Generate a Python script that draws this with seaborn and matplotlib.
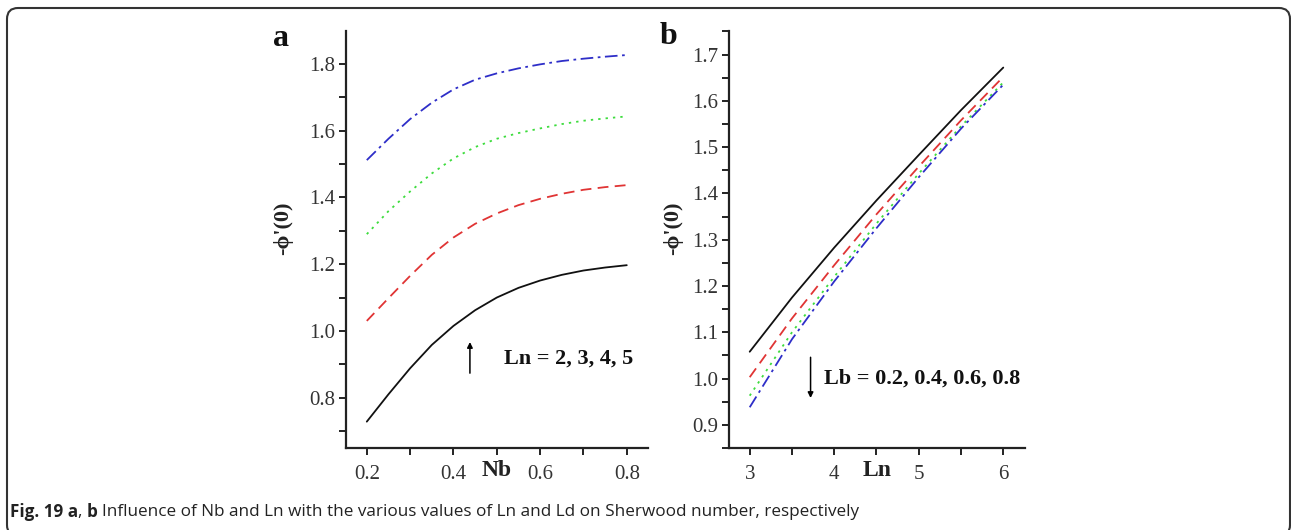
import numpy as np
import pandas as pd
import matplotlib
matplotlib.use("Agg")
import matplotlib.pyplot as plt
import seaborn as sns
from matplotlib.patches import FancyBboxPatch
from matplotlib.ticker import MultipleLocator
from matplotlib.transforms import IdentityTransform

# ---- data ----
nb = [0.20, 0.25, 0.30, 0.35, 0.40, 0.45, 0.50, 0.55, 0.60, 0.65, 0.70, 0.75, 0.80]
a_ln2 = [0.728, 0.810, 0.888, 0.958, 1.015, 1.062, 1.100, 1.129, 1.151, 1.168, 1.181, 1.190, 1.197]
a_ln3 = [1.030, 1.098, 1.165, 1.228, 1.280, 1.321, 1.352, 1.377, 1.396, 1.411, 1.423, 1.431, 1.437]
a_ln4 = [1.290, 1.359, 1.418, 1.472, 1.517, 1.551, 1.576, 1.593, 1.607, 1.620, 1.630, 1.637, 1.643]
a_ln5 = [1.512, 1.576, 1.635, 1.684, 1.724, 1.753, 1.772, 1.787, 1.799, 1.809, 1.816, 1.822, 1.827]

ln = [3.0, 3.5, 4.0, 4.5, 5.0, 5.5, 6.0]
b_lb02 = [1.058, 1.175, 1.283, 1.385, 1.483, 1.580, 1.672]
b_lb04 = [1.003, 1.130, 1.245, 1.355, 1.458, 1.558, 1.652]
b_lb06 = [0.963, 1.100, 1.220, 1.335, 1.443, 1.545, 1.640]
b_lb08 = [0.938, 1.085, 1.210, 1.325, 1.435, 1.540, 1.635]

colors = ["#111111", "#e03434", "#3ddc3d", "#2e2ec8"]
styles = ["-", (0, (6, 3.5)), (0, (1.3, 2.8)), (0, (7, 2.5, 1.5, 2.5))]

sns.set_theme(style="white")
plt.rcParams["font.family"] = ["Liberation Serif", "DejaVu Serif"]

fig = plt.figure(figsize=(12.91, 5.30), dpi=100)
W, H = 1291, 530

def px_axes(l, t, r, b):
    return fig.add_axes([l / W, 1 - b / H, (r - l) / W, (b - t) / H])

axa = px_axes(346, 31, 648, 448)
axb = px_axes(729, 31, 1025, 448)

for ys, c, ls in zip([a_ln2, a_ln3, a_ln4, a_ln5], colors, styles):
    sns.lineplot(x=nb, y=ys, ax=axa, color=c, linestyle=ls, linewidth=1.3)
for ys, c, ls in zip([b_lb02, b_lb04, b_lb06, b_lb08], colors, styles):
    sns.lineplot(x=ln, y=ys, ax=axb, color=c, linestyle=ls, linewidth=1.3)

axa.set_xlim(0.152, 0.849)
axa.set_ylim(0.649, 1.899)
axa.set_xticks([0.2, 0.4, 0.6, 0.8])
axa.set_xticklabels(["0.2", "0.4", "0.6", "0.8"])
axa.xaxis.set_minor_locator(MultipleLocator(0.1))
axa.set_yticks([0.8, 1.0, 1.2, 1.4, 1.6, 1.8])
axa.set_yticklabels(["0.8", "1.0", "1.2", "1.4", "1.6", "1.8"])
axa.yaxis.set_minor_locator(MultipleLocator(0.1))

axb.set_xlim(2.755, 6.257)
axb.set_ylim(0.85, 1.751)
axb.set_xticks([3, 4, 5, 6])
axb.set_xticklabels(["3", "4", "5", "6"])
axb.xaxis.set_minor_locator(MultipleLocator(0.5))
axb.set_yticks([0.9, 1.0, 1.1, 1.2, 1.3, 1.4, 1.5, 1.6, 1.7])
axb.set_yticklabels(["0.9", "1.0", "1.1", "1.2", "1.3", "1.4", "1.5", "1.6", "1.7"])
axb.yaxis.set_minor_locator(MultipleLocator(0.05))

for ax in (axa, axb):
    for s in ("top", "right"):
        ax.spines[s].set_visible(False)
    for s in ("left", "bottom"):
        ax.spines[s].set_color("#222222")
        ax.spines[s].set_linewidth(1.6)
    ax.set_facecolor("none")
    ax.tick_params(which="both", direction="out", length=5, width=1.4,
                   color="#222222", labelsize=15, labelcolor="#333333",
                   left=True, bottom=True, pad=3)
    ax.tick_params(axis="x", which="major", pad=7)
    ax.set_xlabel("")
    ax.set_ylabel("")
    ax.grid(False)

# axis labels
for xc in (283, 673):
    fig.text(xc / W, 1 - 228 / H, "-\u03d5'(0)", fontsize=16, fontweight="bold",
             rotation=90, ha="center", va="center", color="#222222")
fig.text(497 / W, 1 - 470 / H, "Nb", fontsize=17, fontweight="bold",
         ha="center", va="center", color="#222222")
fig.text(877 / W, 1 - 470 / H, "Ln", fontsize=17, fontweight="bold",
         ha="center", va="center", color="#222222")

# panel letters
fig.text(281 / W, 1 - 38 / H, "a", fontsize=23, fontweight="bold",
         ha="center", va="center", color="#111111")
fig.text(669 / W, 1 - 36 / H, "b", fontsize=23, fontweight="bold",
         ha="center", va="center", color="#111111")

# annotations
axa.annotate("", xy=(0.438, 0.975), xytext=(0.438, 0.865),
             arrowprops=dict(arrowstyle="-|>", color="black", lw=1.1,
                             mutation_scale=8))
axa.text(0.516, 0.918, "Ln = 2, 3, 4, 5", fontsize=16, fontweight="bold",
         ha="left", va="center", color="#111111")
axb.annotate("", xy=(3.72, 0.952), xytext=(3.72, 1.052),
             arrowprops=dict(arrowstyle="-|>", color="black", lw=1.1,
                             mutation_scale=8))
axb.text(3.88, 1.0, "Lb = 0.2, 0.4, 0.6, 0.8", fontsize=16, fontweight="bold",
         ha="left", va="center", color="#111111")

# caption
cap_font = ["Open Sans", "DejaVu Sans"]
cap_size = 12.3
cy = 1 - 512 / H
t1 = fig.text(10 / W, cy, "Fig. 19 a", fontsize=cap_size, fontweight="bold",
              family=cap_font, ha="left", va="center", color="#222222")
fig.canvas.draw()
r = fig.canvas.get_renderer()
bb = t1.get_window_extent(r)
t2 = fig.text(bb.x1 / W, cy, ", ", fontsize=cap_size, family=cap_font,
              ha="left", va="center", color="#222222")
bb = t2.get_window_extent(r)
t3 = fig.text(bb.x1 / W, cy, "b", fontsize=cap_size, fontweight="bold",
              family=cap_font, ha="left", va="center", color="#222222")
bb = t3.get_window_extent(r)
fig.text(bb.x1 / W + 4 / W, cy,
         "Influence of Nb and Ln with the various values of Ln and Ld on Sherwood number, respectively",
         fontsize=cap_size, family=cap_font, ha="left", va="center", color="#222222")

# rounded frame (pixel coordinates, origin bottom-left)
frame = FancyBboxPatch((7, -6), 1283, 528,
                       boxstyle="round,pad=0,rounding_size=11",
                       transform=IdentityTransform(), fill=False,
                       edgecolor="#333333", linewidth=1.5, zorder=0)
fig.patches.append(frame)

fig.savefig("out.png", dpi=100)
